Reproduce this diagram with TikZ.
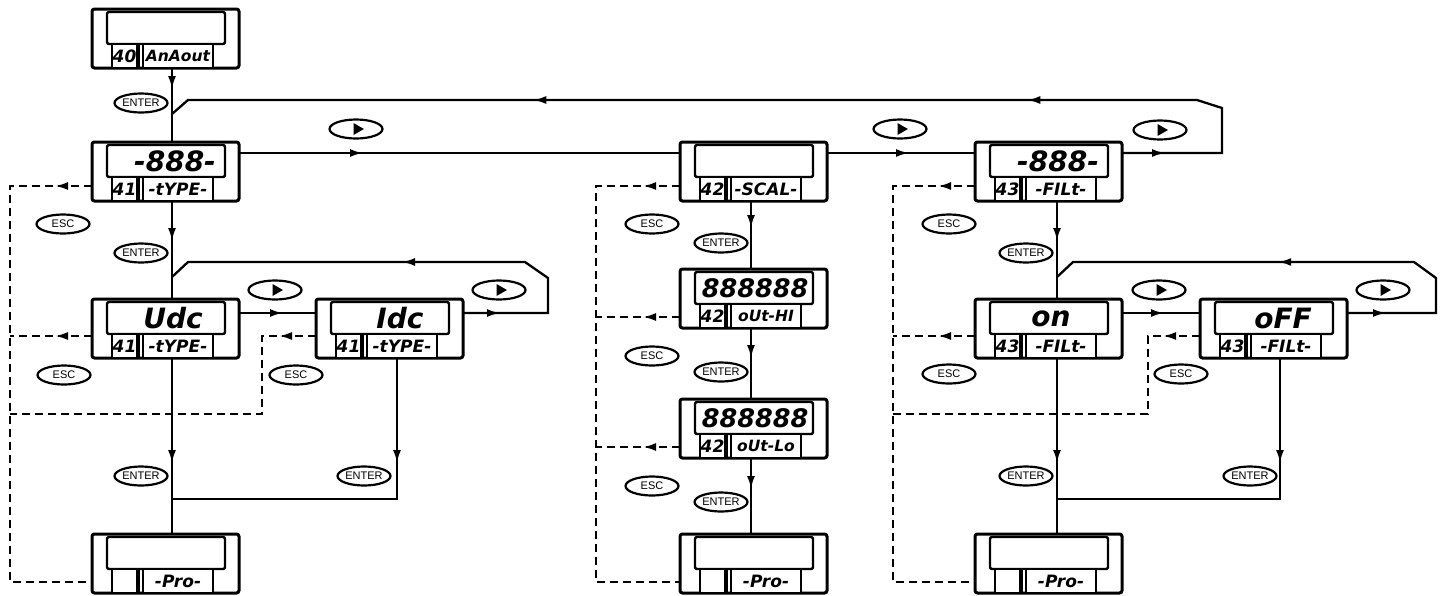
\documentclass[tikz,border=0pt]{standalone}
\usepackage{fontspec}
\setmainfont{Liberation Sans}
\newfontfamily\lcdfont{DejaVu Sans}[ItalicFont={* Oblique},BoldFont={* Bold},BoldItalicFont={* Bold Oblique}]
\usetikzlibrary{shapes.geometric,arrows.meta,decorations.markings,backgrounds}

\tikzset{
  obox/.style={draw, line width=3pt, rounded corners=2.5pt, fill=white,
    minimum width=147pt, minimum height=59pt, inner sep=0pt, outer sep=0pt},
  dsp/.style={draw, line width=2.4pt, rounded corners=2pt, fill=white,
    minimum width=118pt, minimum height=32pt, inner sep=0pt},
  lab/.style={draw, line width=2.2pt, fill=white, minimum height=24pt, inner sep=0pt,
    font={\lcdfont\bfseries\itshape\fontsize{17}{17}\selectfont}},
  dtxt/.style={inner sep=0pt, font={\lcdfont\bfseries\itshape\fontsize{28}{28}\selectfont}},
  divl/.style={line width=1.8pt},
  conn/.style={line width=2.3pt},
  dsh/.style={line width=2.3pt, dash pattern=on 8pt off 5pt},
  arrat/.style={postaction={decorate,decoration={markings,
      mark=at position #1 with {\arrow{Latex[length=13pt,width=8pt]}}}}},
  btn/.style={ellipse, draw, line width=2.2pt, fill=white, minimum width=53pt,
    minimum height=19pt, inner sep=0pt, font={\fontsize{11}{11}\selectfont}},
  tri/.style={isosceles triangle, fill=black, inner sep=0pt, minimum height=10pt,
    minimum width=12pt, isosceles triangle apex angle=60}
}

% name, x, y (top-left), display text, left label, right label, text x offset
\newcommand\devbox[7]{%
  \node[obox] (#1) at (#2+73.5,#3+29.5) {};
  \node[dsp] (#1d) at (#2+74,#3+19) {};
  \node[dtxt] (#1t) at (#2+#7,#3+19.5) {#4};
  \node[lab, minimum width=25pt] (#1l) at (#2+32.5,#3+47) {#5};
  \node[lab, minimum width=70pt] (#1r) at (#2+86,#3+47) {#6};
  \draw[divl] (#2+47,#3+35.5) -- (#2+47,#3+58.5);
}

\newcommand\playbtn[3]{%
  \node[btn] (#1) at (#2,#3) {};
  \node[tri] (#1t) at (#2+1,#3) {};
}
\newcommand\smallish[1]{{\fontsize{15.5}{15.5}\selectfont #1}}
\newcommand\wide[1]{{\fontsize{25.5}{25.5}\selectfont #1}}

\begin{document}
\begin{tikzpicture}[x=1pt,y=-1pt]
\useasboundingbox (0,0) rectangle (1445,595);

% ---------- boxes ----------
\devbox{b40}{92}{9}{}{40}{\smallish{AnAout}}{80}
\devbox{b41}{92}{142}{-888-}{41}{-tYPE-}{83}
\devbox{udc}{92}{299}{Udc}{41}{-tYPE-}{81}
\devbox{idc}{316}{299}{Idc}{41}{-tYPE-}{84}
\devbox{proA}{92}{534}{}{}{-Pro-}{80}

\devbox{b42}{680}{142}{}{42}{-SCAL-}{80}
\devbox{hi}{680}{269}{\wide{888888}}{42}{\smallish{oUt-HI}}{75}
\devbox{lo}{680}{399}{\wide{888888}}{42}{\smallish{oUt-Lo}}{75}
\devbox{proB}{680}{534}{}{}{-Pro-}{80}

\devbox{b43}{975}{142}{-888-}{43}{-FILt-}{83}
\devbox{on}{975}{299}{on}{43}{-FILt-}{76}
\devbox{off}{1200}{299}{oFF}{43}{-FILt-}{83}
\devbox{proC}{975}{534}{}{}{-Pro-}{80}

% ---------- junction coordinates ----------
\coordinate (jA1) at (172,114);
\coordinate (jA2) at (172,277);
\coordinate (jA3) at (172,499);
\coordinate (jC2) at (1057,277);
\coordinate (jC3) at (1057,499);
\coordinate (dA1) at (10,186);
\coordinate (dA2) at (10,582);
\coordinate (dA3) at (10,336);
\coordinate (dA4) at (10,414);
\coordinate (dB1) at (596,186);
\coordinate (dB2) at (596,317);
\coordinate (dB3) at (596,447);
\coordinate (dB4) at (596,582);
\coordinate (dC1) at (893,186);
\coordinate (dC2) at (893,336);
\coordinate (dC3) at (893,414);
\coordinate (dC4) at (893,582);

\begin{scope}[on background layer]
% column A
\draw[conn, arrat=21pt] (b40.south -| 172,0) -- (b41.north -| 172,0);
\draw[conn, arrat=40pt] (b41.south -| 172,0) -- (udc.north -| 172,0);
\draw[conn, arrat=105pt] (udc.south -| 172,0) -- (proA.north -| 172,0);
\draw[conn, arrat=105pt] (idc.south -| 397,0) -- (397,499) -- (jA3);
\draw[conn, arrat=44pt] (udc.east |- 0,313) -- (idc.west |- 0,313);
\draw[conn, arrat=37pt, arrat=271pt] (idc.east |- 0,313) -- (548,313) -- (548,278)
   -- (525,262) -- (188,262) -- (jA2);
% top loop
\draw[conn, arrat=43pt, arrat=341pt, arrat=835pt] (b43.east |- 0,153) -- (1222,153)
   -- (1222,108) -- (1197,100) -- (188,100) -- (jA1);
% main row
\draw[conn, arrat=124pt] (b41.east |- 0,153) -- (b42.west |- 0,153);
\draw[conn, arrat=82pt] (b42.east |- 0,153) -- (b43.west |- 0,153);
% column B
\draw[conn, arrat=27pt] (b42.south -| 751,0) -- (hi.north -| 751,0);
\draw[conn, arrat=30pt] (hi.south -| 751,0) -- (lo.north -| 751,0);
\draw[conn, arrat=31pt] (lo.south -| 751,0) -- (proB.north -| 751,0);
% column C
\draw[conn, arrat=40pt] (b43.south -| 1057,0) -- (on.north -| 1057,0);
\draw[conn, arrat=105pt] (on.south -| 1057,0) -- (proC.north -| 1057,0);
\draw[conn, arrat=105pt] (off.south -| 1280,0) -- (1280,499) -- (jC3);
\draw[conn, arrat=42pt] (on.east |- 0,313) -- (off.west |- 0,313);
\draw[conn, arrat=39pt, arrat=287pt] (off.east |- 0,313) -- (1436,313) -- (1436,278)
   -- (1414,262) -- (1073,262) -- (jC2);
% dashed, column A
\draw[dsh, arrat=37pt] (b41.west |- 0,186) -- (dA1) -- (dA2) -- (proA.west |- 0,582);
\draw[dsh, arrat=37pt] (udc.west |- 0,336) -- (dA3);
\draw[dsh, arrat=37pt] (idc.west |- 0,336) -- (262,336) -- (262,414) -- (dA4);
% dashed, column B
\draw[dsh, arrat=37pt] (b42.west |- 0,186) -- (dB1) -- (dB4) -- (proB.west |- 0,582);
\draw[dsh, arrat=37pt] (hi.west |- 0,317) -- (dB2);
\draw[dsh, arrat=37pt] (lo.west |- 0,447) -- (dB3);
% dashed, column C
\draw[dsh, arrat=37pt] (b43.west |- 0,186) -- (dC1) -- (dC4) -- (proC.west |- 0,582);
\draw[dsh, arrat=37pt] (on.west |- 0,336) -- (dC2);
\draw[dsh, arrat=37pt] (off.west |- 0,336) -- (1148,336) -- (1148,414) -- (dC3);
\end{scope}

% ---------- buttons ----------
\node[btn] (en1) at (141,103) {ENTER};
\node[btn] (en2) at (141,253) {ENTER};
\node[btn] (en3) at (141,476) {ENTER};
\node[btn] (en4) at (364,476) {ENTER};
\node[btn] (en5) at (721,243) {ENTER};
\node[btn] (en6) at (721,372) {ENTER};
\node[btn] (en7) at (721,502) {ENTER};
\node[btn] (en8) at (1026,253) {ENTER};
\node[btn] (en9) at (1026,476) {ENTER};
\node[btn] (en10) at (1250,476) {ENTER};

\node[btn] (es1) at (63,224) {ESC};
\node[btn] (es2) at (64,375) {ESC};
\node[btn] (es3) at (296,375) {ESC};
\node[btn] (es4) at (652,224) {ESC};
\node[btn] (es5) at (652,356) {ESC};
\node[btn] (es6) at (652,486) {ESC};
\node[btn] (es7) at (949,224) {ESC};
\node[btn] (es8) at (949,374) {ESC};
\node[btn] (es9) at (1181,374) {ESC};

\playbtn{pl1}{356}{129}
\playbtn{pl2}{900}{129}
\playbtn{pl3}{1160}{130}
\playbtn{pl4}{275}{290}
\playbtn{pl5}{499}{290}
\playbtn{pl6}{1159}{290}
\playbtn{pl7}{1383}{290}
\end{tikzpicture}
\end{document}
